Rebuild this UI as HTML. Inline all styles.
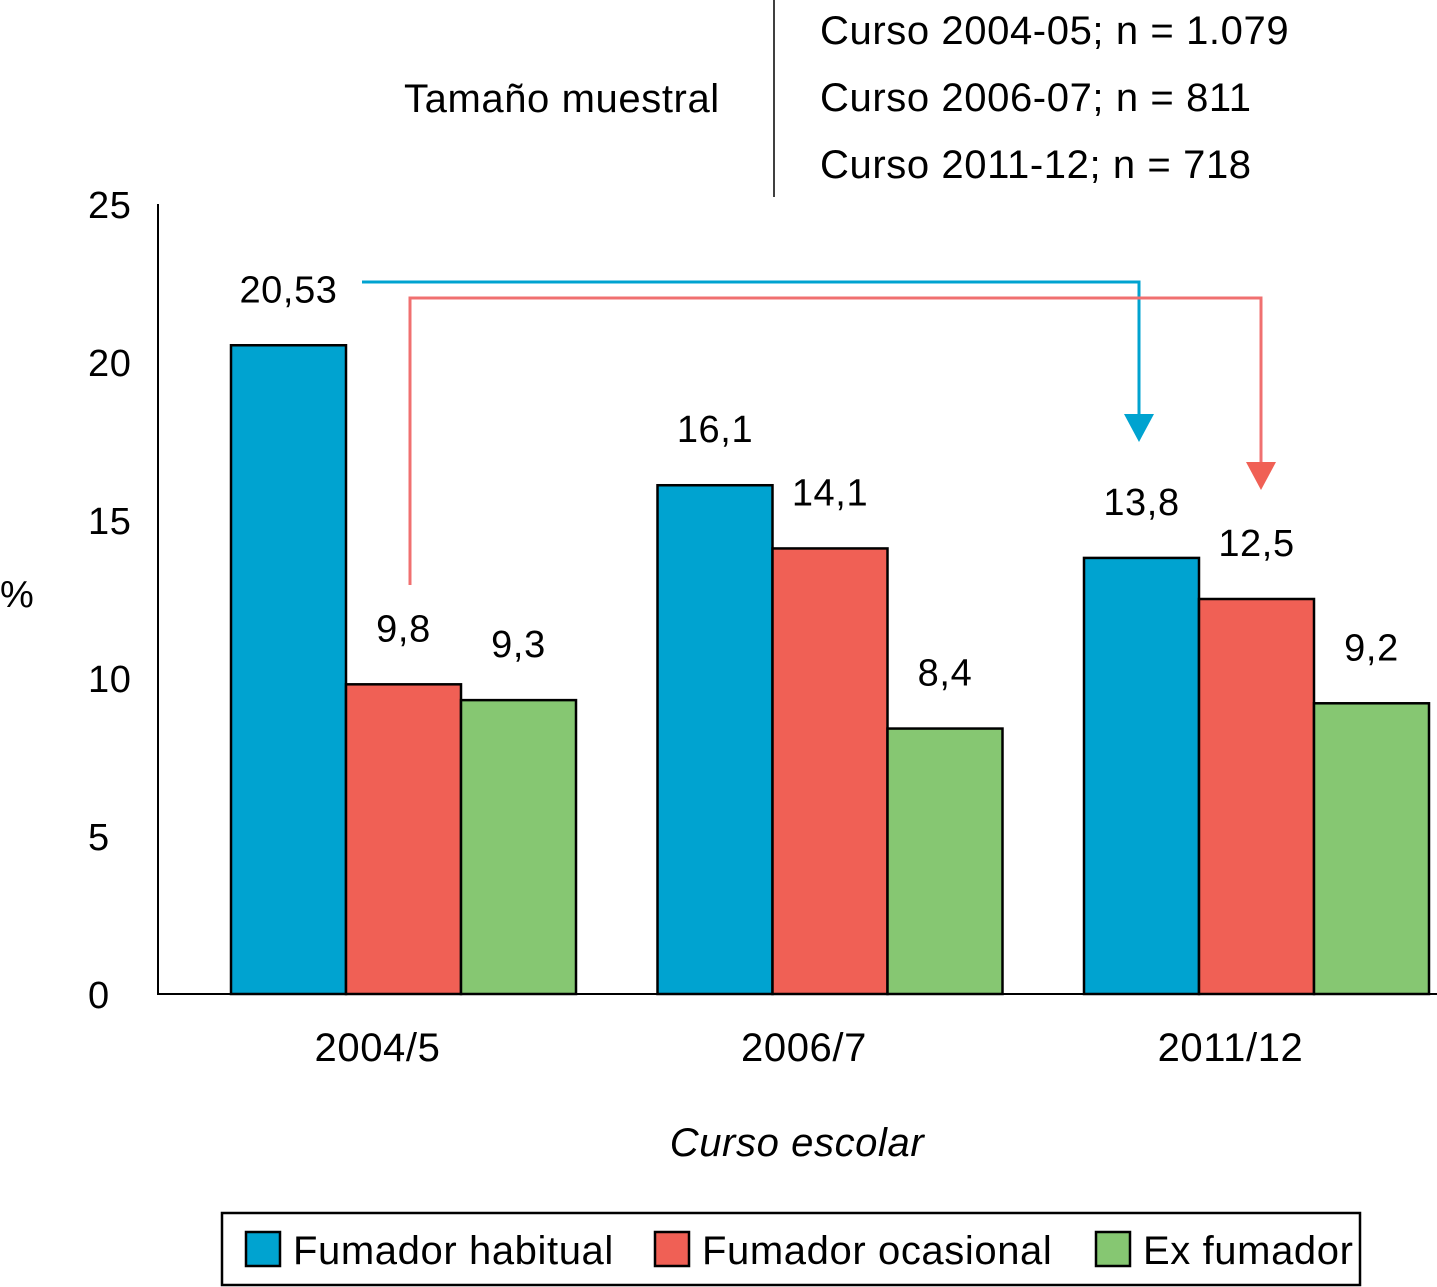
<!DOCTYPE html>
<html><head><meta charset="utf-8"><style>
body{margin:0;background:#fff;}
svg{display:block;font-family:"Liberation Sans",Arial,sans-serif;}
svg text{letter-spacing:0.6px;}
</style></head><body>
<svg id="c" width="1437" height="1287" viewBox="0 0 1437 1287">
<g>
<text x="404" y="112" font-size="40">Tamaño muestral</text>
<line x1="774" y1="0" x2="774" y2="197" stroke="#000" stroke-width="1.5"/>
<text x="820" y="44" font-size="40">Curso 2004-05; n = 1.079</text>
<text x="820" y="111" font-size="40">Curso 2006-07; n = 811</text>
<text x="820" y="178" font-size="40">Curso 2011-12; n = 718</text>
</g>
<text x="0" y="607" font-size="38">%</text>
<text x="797" y="1156" font-size="40" font-style="italic" text-anchor="middle">Curso escolar</text>
<g id="ticks"></g><g id="bars"></g>
<g>
<polyline points="362,282 1139,282 1139,418" fill="none" stroke="#00a3d0" stroke-width="3"/>
<polygon points="1124,414 1154,414 1139,442" fill="#00a3d0"/>
<polyline points="410,585 410,298 1261,298 1261,466" fill="none" stroke="#f07070" stroke-width="3"/>
<polygon points="1246,462 1276,462 1261,490" fill="#f06055"/>
</g>
<g>
<rect x="222" y="1213" width="1138" height="72" fill="none" stroke="#000" stroke-width="2.5"/>
<rect x="246" y="1232" width="34" height="34" fill="#00a3d0" stroke="#000" stroke-width="2.5"/>
<text x="293" y="1264" font-size="40">Fumador habitual</text>
<rect x="655" y="1232" width="34" height="34" fill="#f06055" stroke="#000" stroke-width="2.5"/>
<text x="702" y="1264" font-size="40">Fumador ocasional</text>
<rect x="1096" y="1232" width="34" height="34" fill="#86c772" stroke="#000" stroke-width="2.5"/>
<text x="1143" y="1264" font-size="40">Ex fumador</text>
</g>
</svg>
<script>
const categories=["2004/5","2006/7","2011/12"];
const habitual=[20.53,16.1,13.8];
const ocasional=[9.8,14.1,12.5];
const exFumador=[9.3,8.4,9.2];
const habitualLabels=["20,53","16,1","13,8"];
const ocasionalLabels=["9,8","14,1","12,5"];
const exLabels=["9,3","8,4","9,2"];
const yTicks=[0,5,10,15,20,25];
const NS="http://www.w3.org/2000/svg";
const y0=994,yScale=31.6;
function y(v){return y0-v*yScale;}
const groupStarts=[231,655,1084],bw=115;
function gx(i){return groupStarts[0]+i*((groupStarts[2]-groupStarts[0])/2);}
function mk(t,a,p){const e=document.createElementNS(NS,t);for(const k in a)e.setAttribute(k,a[k]);p.appendChild(e);return e;}
const tg=document.getElementById('ticks');
const ax=mk('polyline',{points:`158,${y(25)} 158,${y0} 1437,${y0}`,fill:'none',stroke:'#000','stroke-width':2},tg);


yTicks.forEach(t=>{const e=mk('text',{x:88,y:y(t)+14,'font-size':38},tg);e.textContent=t;

});
const bg=document.getElementById('bars');
const series=[[habitual,habitualLabels,'#00a3d0','habitual'],[ocasional,ocasionalLabels,'#f06055','ocasional'],[exFumador,exLabels,'#86c772','ex']];
categories.forEach((c,i)=>{
 const x0=gx(i);
 series.forEach((s,j)=>{
  const v=s[0][i],x=x0+j*bw;
  const r=mk('rect',{x:x,y:y(v),width:bw,height:y0-y(v),fill:s[2],stroke:'#000','stroke-width':2.5},bg);
  
  
  const t=mk('text',{x:x+bw/2,y:y(v)-43,'font-size':38,'text-anchor':'middle'},bg);t.textContent=s[1][i];
  
  
 });
 const l=mk('text',{x:x0+bw*1.5-26,y:1061,'font-size':40,'text-anchor':'middle'},bg);l.textContent=c;
 
 
});
</script>
</body></html>
